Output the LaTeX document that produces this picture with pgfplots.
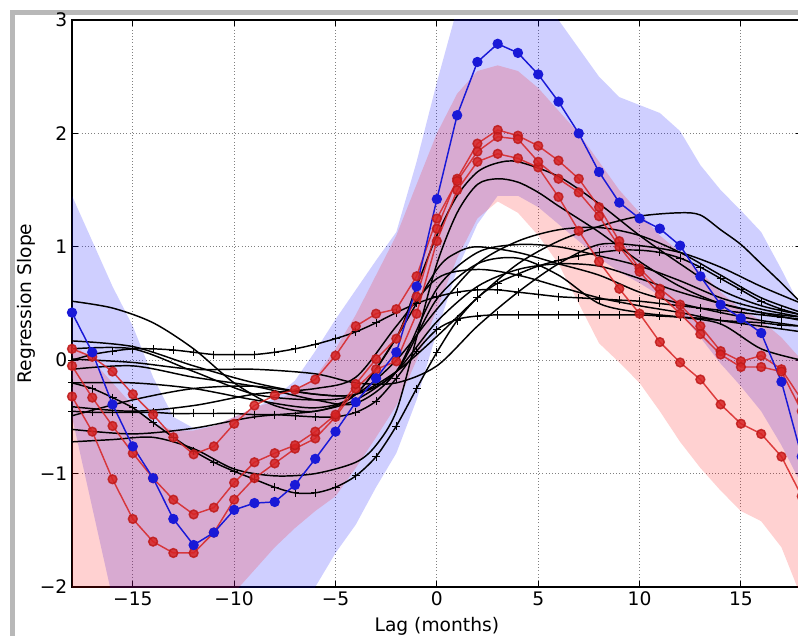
\documentclass[border=0pt]{standalone}
\usepackage{pgfplots}
\pgfplotsset{compat=1.18}
\usepackage{fontspec}
\setmainfont{DejaVu Sans}
\definecolor{mblue}{RGB}{25,25,215}
\definecolor{mred}{RGB}{215,35,35}
\definecolor{mredd}{RGB}{190,25,25}
\begin{document}
\begin{tikzpicture}
\path[use as bounding box] (0,0) rectangle (598.5pt,476.25pt);
\draw[line width=3.5pt, black!28] (9.4pt,-5pt) -- (9.4pt,466.9pt) -- (605pt,466.9pt);
\begin{axis}[
  at={(54pt,36pt)}, anchor=south west,
  scale only axis, width=547.3pt, height=425.25pt,
  xmin=-18, xmax=18, ymin=-2, ymax=3,
  xtick={-15,-10,-5,0,5,10,15},
  xticklabels={−15,−10,−5,0,5,10,15},
  ytick={-2,-1,0,1,2,3},
  yticklabels={−2,−1,0,1,2,3},
  tick align=inside, major tick length=4.5pt,
  tick style={black, line width=0.7pt},
  grid=major, grid style={dotted, black!50, line width=0.7pt},
  axis line style={line width=1pt},
  ticklabel style={font=\fontsize{14}{16}\selectfont},
  xlabel={Lag (months)}, ylabel={Regression Slope},
  every axis x label/.style={at={(axis description cs:0.5,0)}, anchor=base, yshift=-33pt, font=\fontsize{14}{16}\selectfont},
  every axis y label/.style={at={(axis description cs:-0.062,0.5)}, rotate=90, anchor=center, font=\fontsize{14}{16}\selectfont},
  blk/.style={black, line width=1.1pt, smooth},
  blkp/.style={black, line width=1.1pt, smooth, mark=+, mark size=3pt, mark options={line width=0.6pt}},
  rs/.style={mred, opacity=0.85, line width=1.1pt, mark=*, mark size=3.3pt, mark options={fill=mred, draw=mredd}},
]
% blue band
\addplot[draw=none, fill=blue, fill opacity=0.19] coordinates {
(-18,1.45)(-17,1.05)(-16,0.65)(-15,0.30)(-14,-0.15)(-13,-0.5)(-12,-0.6)(-11,-0.58)(-10,-0.5)(-9,-0.42)(-8,-0.33)(-7,-0.18)(-6,0.08)(-5,0.36)(-4,0.62)(-3,0.88)(-2,1.13)(-1,1.75)(0,2.45)(1,3.1)(2,3.4)(3,3.5)(4,3.4)(5,3.2)(6,3.0)(7,2.75)(8,2.5)(9,2.32)(10,2.25)(11,2.18)(12,2.02)(13,1.72)(14,1.5)(15,1.32)(16,1.13)(17,0.8)(18,0.45)
(18,-1.1)(17,-0.75)(16,-0.45)(15,-0.23)(14,-0.03)(13,0.2)(12,0.42)(11,0.57)(10,0.68)(9,0.78)(8,0.9)(7,1.05)(6,1.2)(5,1.35)(4,1.45)(3,1.45)(2,1.2)(1,0.8)(0,0.25)(-1,-0.35)(-2,-0.82)(-3,-1.12)(-4,-1.45)(-5,-1.7)(-6,-2.0)(-7,-2.5)(-15,-2.5)(-16,-2.1)(-17,-1.3)(-18,-0.5)
} -- cycle;
% red band
\addplot[draw=none, fill=red, fill opacity=0.18] coordinates {
(-18,0.15)(-17,0.0)(-16,-0.2)(-15,-0.4)(-14,-0.55)(-13,-0.62)(-12,-0.62)(-11,-0.58)(-10,-0.5)(-9,-0.42)(-8,-0.36)(-7,-0.28)(-6,-0.15)(-5,0.1)(-4,0.4)(-3,0.75)(-2,1.1)(-1,1.55)(0,2.0)(1,2.35)(2,2.55)(3,2.6)(4,2.55)(5,2.4)(6,2.2)(7,2.0)(8,1.75)(9,1.5)(10,1.3)(11,1.1)(12,0.95)(13,0.78)(14,0.6)(15,0.45)(16,0.35)(17,0.2)(18,0.0)
(18,-2.1)(17,-1.65)(16,-1.42)(15,-1.33)(14,-1.15)(13,-0.95)(12,-0.72)(11,-0.45)(10,-0.2)(9,-0.02)(8,0.15)(7,0.5)(6,0.85)(5,1.1)(4,1.3)(3,1.4)(2,1.25)(1,0.9)(0,0.45)(-1,0.0)(-2,-0.4)(-3,-0.68)(-4,-0.95)(-5,-1.2)(-6,-1.33)(-7,-1.48)(-8,-1.65)(-9,-1.85)(-10,-2.05)(-11,-2.5)(-18,-2.5)
} -- cycle;
% black lines with + markers
\addplot[blkp] coordinates {
(-18,0.00)(-17,0.05)(-16,0.08)(-15,0.10)(-14,0.10)(-13,0.09)(-12,0.07)(-11,0.05)(-10,0.05)(-9,0.05)(-8,0.07)(-7,0.10)(-6,0.14)(-5,0.19)(-4,0.25)(-3,0.33)(-2,0.42)(-1,0.50)(0,0.56)(1,0.60)(2,0.62)(3,0.62)(4,0.60)(5,0.58)(6,0.56)(7,0.55)(8,0.54)(9,0.53)(10,0.52)(11,0.50)(12,0.48)(13,0.46)(14,0.44)(15,0.42)(16,0.40)(17,0.38)(18,0.36)};
\addplot[blkp] coordinates {
(-18,-0.45)(-17,-0.46)(-16,-0.46)(-15,-0.46)(-14,-0.46)(-13,-0.47)(-12,-0.47)(-11,-0.47)(-10,-0.47)(-9,-0.48)(-8,-0.48)(-7,-0.49)(-6,-0.50)(-5,-0.50)(-4,-0.46)(-3,-0.36)(-2,-0.16)(-1,0.08)(0,0.27)(1,0.36)(2,0.39)(3,0.40)(4,0.40)(5,0.40)(6,0.40)(7,0.40)(8,0.40)(9,0.40)(10,0.40)(11,0.39)(12,0.38)(13,0.37)(14,0.35)(15,0.34)(16,0.33)(17,0.31)(18,0.30)};
\addplot[blkp] coordinates {
(-18,-0.20)(-17,-0.25)(-16,-0.33)(-15,-0.42)(-14,-0.55)(-13,-0.68)(-12,-0.80)(-11,-0.90)(-10,-0.98)(-9,-1.05)(-8,-1.12)(-7,-1.17)(-6,-1.17)(-5,-1.12)(-4,-1.02)(-3,-0.85)(-2,-0.58)(-1,-0.25)(0,0.07)(1,0.35)(2,0.55)(3,0.68)(4,0.76)(5,0.83)(6,0.88)(7,0.92)(8,0.95)(9,0.97)(10,0.97)(11,0.95)(12,0.90)(13,0.82)(14,0.72)(15,0.62)(16,0.52)(17,0.45)(18,0.40)};
% smooth black lines
\addplot[blk] coordinates {(-18,0.52)(-16,0.46)(-14,0.33)(-12,0.10)(-10,-0.20)(-8,-0.40)(-6,-0.45)(-4,-0.30)(-2,0.20)(-1,0.65)(0,1.10)(1,1.45)(2,1.66)(3,1.74)(4,1.75)(6,1.62)(8,1.38)(10,1.10)(12,0.85)(14,0.62)(16,0.48)(18,0.40)};
\addplot[blk] coordinates {(-18,-0.72)(-16,-0.70)(-14,-0.68)(-12,-0.78)(-10,-0.96)(-8,-1.02)(-6,-1.00)(-4,-0.90)(-3,-0.75)(-2,-0.45)(-1,0.20)(0,0.85)(1,1.30)(2,1.55)(3,1.60)(4,1.57)(5,1.48)(6,1.36)(8,1.13)(10,0.87)(12,0.65)(14,0.50)(16,0.42)(18,0.38)};
\addplot[blk] coordinates {(-18,0.17)(-15,0.12)(-12,-0.05)(-9,-0.20)(-6,-0.30)(-4,-0.30)(-2,-0.10)(0,0.21)(2,0.55)(4,0.85)(6,1.05)(8,1.18)(10,1.27)(12,1.30)(13,1.28)(14,1.15)(15,1.02)(16,0.85)(17,0.68)(18,0.50)};
\addplot[blk] coordinates {(-18,0.10)(-15,0.10)(-12,-0.10)(-9,-0.30)(-6,-0.35)(-4,-0.30)(-2,0.00)(0,0.45)(2,0.85)(4,1.05)(6,1.15)(8,1.17)(10,1.10)(12,0.95)(14,0.75)(16,0.55)(18,0.42)};
\addplot[blk] coordinates {(-18,-0.08)(-15,-0.05)(-12,-0.15)(-9,-0.23)(-6,-0.35)(-4,-0.38)(-2,-0.10)(0,0.63)(2,0.95)(4,1.02)(6,1.00)(8,0.92)(10,0.83)(12,0.70)(14,0.55)(16,0.45)(18,0.38)};
\addplot[blk] coordinates {(-18,-0.20)(-15,-0.20)(-12,-0.25)(-9,-0.35)(-6,-0.42)(-4,-0.30)(-2,0.20)(0,0.80)(1,0.95)(2,1.00)(4,0.95)(6,0.85)(8,0.75)(10,0.60)(12,0.50)(14,0.42)(16,0.35)(18,0.30)};
\addplot[blk] coordinates {(-18,-0.41)(-15,-0.45)(-12,-0.40)(-9,-0.30)(-6,-0.25)(-4,-0.15)(-2,0.30)(0,0.72)(2,0.80)(4,0.75)(6,0.65)(8,0.55)(10,0.48)(12,0.42)(14,0.35)(16,0.30)(18,0.25)};
\addplot[blk] coordinates {(-18,-0.61)(-15,-0.65)(-12,-0.60)(-9,-0.50)(-6,-0.45)(-4,-0.35)(-2,-0.10)(0,0.34)(2,0.65)(4,0.80)(6,0.85)(8,0.83)(10,0.72)(12,0.60)(14,0.50)(16,0.42)(18,0.35)};
\addplot[blk] coordinates {(-18,0.01)(-15,-0.02)(-12,-0.08)(-9,-0.08)(-6,-0.12)(-4,-0.20)(-2,-0.20)(0,-0.05)(2,0.30)(4,0.60)(6,0.85)(8,1.02)(10,1.01)(12,0.95)(14,0.82)(16,0.65)(18,0.50)};
\addplot[blk] coordinates {(-18,-0.49)(-15,-0.35)(-12,-0.25)(-9,-0.23)(-6,-0.30)(-4,-0.30)(-2,-0.10)(0,0.54)(2,0.85)(4,0.90)(6,0.75)(8,0.50)(10,0.42)(12,0.38)(14,0.32)(16,0.10)(18,0.00)};
% red series
\addplot[rs] coordinates {
(-18,-0.32)(-17,-0.63)(-16,-1.05)(-15,-1.40)(-14,-1.60)(-13,-1.70)(-12,-1.70)(-11,-1.52)(-10,-1.23)(-9,-1.04)(-8,-0.91)(-7,-0.78)(-6,-0.69)(-5,-0.50)(-4,-0.25)(-3,-0.08)(-2,-0.01)(-1,0.41)(0,1.05)(1,1.50)(2,1.75)(3,1.82)(4,1.78)(5,1.70)(6,1.44)(7,1.14)(8,0.87)(9,0.63)(10,0.41)(11,0.16)(12,-0.02)(13,-0.17)(14,-0.39)(15,-0.56)(16,-0.65)(17,-0.85)(18,-1.20)};
\addplot[rs] coordinates {
(-18,-0.05)(-17,-0.33)(-16,-0.58)(-15,-0.82)(-14,-1.04)(-13,-1.23)(-12,-1.36)(-11,-1.30)(-10,-1.08)(-9,-0.90)(-8,-0.82)(-7,-0.75)(-6,-0.63)(-5,-0.48)(-4,-0.21)(-3,0.01)(-2,0.19)(-1,0.56)(0,1.16)(1,1.60)(2,1.91)(3,2.03)(4,1.98)(5,1.89)(6,1.76)(7,1.60)(8,1.35)(9,1.05)(10,0.81)(11,0.63)(12,0.49)(13,0.30)(14,0.08)(15,-0.01)(16,0.04)(17,-0.08)(18,-0.35)};
\addplot[rs] coordinates {
(-18,0.10)(-17,0.03)(-16,-0.10)(-15,-0.30)(-14,-0.48)(-13,-0.68)(-12,-0.83)(-11,-0.76)(-10,-0.56)(-9,-0.40)(-8,-0.31)(-7,-0.26)(-6,-0.17)(-5,0.04)(-4,0.30)(-3,0.41)(-2,0.45)(-1,0.74)(0,1.25)(1,1.58)(2,1.84)(3,1.97)(4,1.95)(5,1.75)(6,1.60)(7,1.48)(8,1.27)(9,1.00)(10,0.78)(11,0.58)(12,0.41)(13,0.23)(14,0.05)(15,-0.06)(16,-0.06)(17,-0.10)(18,-0.45)};
% blue series
\addplot[mblue, line width=1.1pt, mark=*, mark size=3.3pt, mark options={fill=mblue, draw=mblue}] coordinates {
(-18,0.42)(-17,0.07)(-16,-0.39)(-15,-0.76)(-14,-1.04)(-13,-1.40)(-12,-1.63)(-11,-1.52)(-10,-1.32)(-9,-1.26)(-8,-1.25)(-7,-1.10)(-6,-0.87)(-5,-0.63)(-4,-0.37)(-3,-0.16)(-2,0.07)(-1,0.65)(0,1.42)(1,2.16)(2,2.63)(3,2.79)(4,2.71)(5,2.52)(6,2.28)(7,2.00)(8,1.66)(9,1.39)(10,1.25)(11,1.16)(12,1.01)(13,0.74)(14,0.49)(15,0.37)(16,0.24)(17,-0.19)(18,-0.85)};
\end{axis}
\end{tikzpicture}
\end{document}
